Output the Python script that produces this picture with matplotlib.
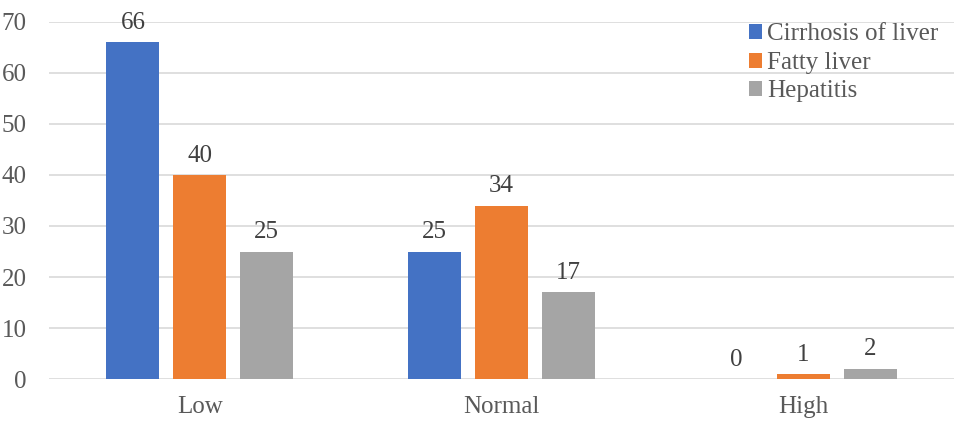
import matplotlib
matplotlib.use("Agg")
import numpy as np
import matplotlib.pyplot as plt

categories = ["Low", "Normal", "High"]
series_names = ["Cirrhosis of liver", "Fatty liver", "Hepatitis"]
cirrhosis = [66, 25, 0]
fatty = [40, 34, 1]
hepatitis = [25, 17, 2]
y_ticks = [0, 10, 20, 30, 40, 50, 60, 70]

colors = ["#4472C4", "#ED7D31", "#A5A5A5"]
text_color = "#595959"
label_color = "#404040"
grid_color = "#D9D9D9"
fs = 18

plt.rcParams["font.family"] = ["Liberation Serif", "DejaVu Serif"]

fig = plt.figure(figsize=(9.75, 4.26), dpi=100)
ax = fig.add_axes([0.0503, 0.1103, 0.9282, 0.8381])

x = np.arange(len(categories))
bar_w = 0.176
step = 0.222
for i, (vals, name) in enumerate(zip([cirrhosis, fatty, hepatitis], series_names)):
    pos = x + (i - 1) * step
    bars = ax.bar(pos, vals, width=bar_w, color=colors[i], label=name, zorder=3)
    for b, v in zip(bars, vals):
        ax.annotate(str(v), (b.get_x() + b.get_width() / 2, v), xytext=(0, 6),
                    textcoords="offset points", ha="center", va="bottom",
                    fontsize=fs, color=label_color)

ax.set_xlim(-0.5, len(categories) - 0.5)
ax.set_ylim(0, 70)
ax.set_yticks(y_ticks)
ax.set_xticks(x)
ax.set_xticklabels(categories)
ax.tick_params(axis="both", length=0, labelsize=fs, labelcolor=text_color)
ax.tick_params(axis="y", pad=16)
ax.tick_params(axis="x", pad=12)
ax.grid(axis="y", color=grid_color, linewidth=1.2, zorder=0)
for s in ax.spines.values():
    s.set_visible(False)

leg = ax.legend(loc="upper left", bbox_to_anchor=(736 / 975, 1 - 11 / 426),
                bbox_transform=fig.transFigure, frameon=False, borderpad=0,
                fontsize=fs, handlelength=0.55, handleheight=0.55, handletextpad=0.2,
                labelspacing=0.26)
for t in leg.get_texts():
    t.set_color(text_color)

fig.savefig("out.png", dpi=100)
